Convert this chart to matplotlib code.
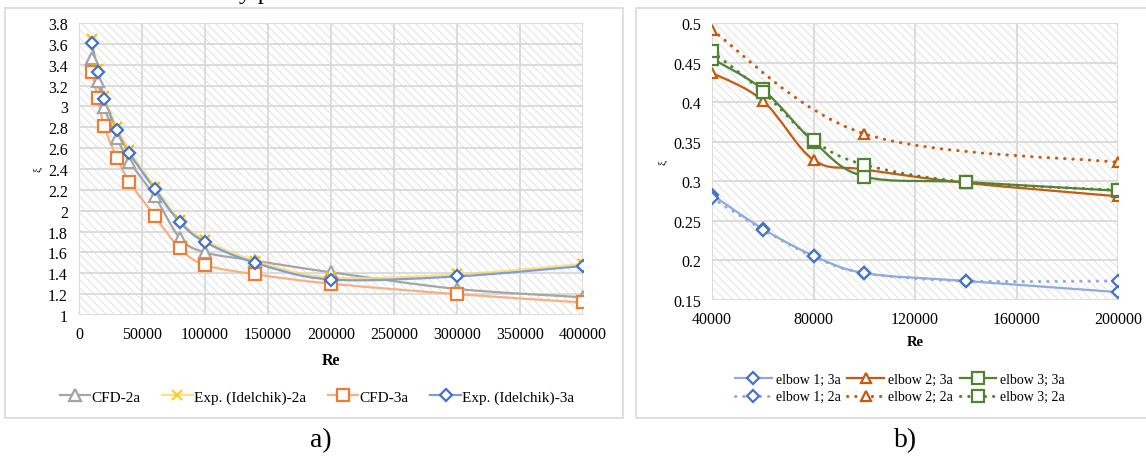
import matplotlib
matplotlib.use("Agg")
import matplotlib.pyplot as plt
import numpy as np
from matplotlib.path import Path
from matplotlib.patches import PathPatch, Rectangle
from matplotlib.lines import Line2D

plt.rcParams['font.family'] = ['Liberation Serif', 'DejaVu Serif']
plt.rcParams['hatch.linewidth'] = 0.7

# ---- data: panel a ----
re_a = [10000, 15000, 20000, 30000, 40000, 60000, 80000, 100000, 140000, 200000, 300000, 400000]
cfd_2a = [3.46, 3.24, 2.99, 2.70, 2.47, 2.14, 1.74, 1.60, 1.52, 1.41, 1.25, 1.17]
exp_2a = [3.65, 3.36, 3.10, 2.80, 2.58, 2.23, 1.91, 1.72, 1.52, 1.36, 1.39, 1.49]
cfd_3a = [3.33, 3.08, 2.81, 2.51, 2.28, 1.95, 1.64, 1.48, 1.39, 1.30, 1.20, 1.12]
exp_3a = [3.61, 3.33, 3.07, 2.77, 2.55, 2.21, 1.89, 1.70, 1.50, 1.34, 1.37, 1.47]

# ---- data: panel b ----
re_b = [40000, 60000, 80000, 100000, 140000, 200000]
re_b_e2_2a = [40000, 100000, 200000]
e1_3a = [0.283, 0.240, 0.206, 0.184, 0.174, 0.160]
e1_2a = [0.279, 0.239, 0.205, 0.184, 0.174, 0.174]
e2_3a = [0.437, 0.402, 0.327, 0.315, 0.298, 0.281]
e2_2a = [0.491, 0.360, 0.324]
e3_3a = [0.455, 0.416, 0.350, 0.306, 0.299, 0.288]
e3_2a = [0.464, 0.413, 0.352, 0.321, 0.299, 0.289]

W, H = 1146, 460
fig = plt.figure(figsize=(W / 100, H / 100), dpi=100)


def smooth_path(x, y):
    # Excel-like smoothed line as cubic Bezier through the data points
    pts = np.column_stack([x, y]).astype(float)
    n = len(pts)
    verts = [pts[0]]
    codes = [Path.MOVETO]
    for i in range(n - 1):
        p0 = pts[i - 1] if i > 0 else pts[i]
        p1, p2 = pts[i], pts[i + 1]
        p3 = pts[i + 2] if i + 2 < n else pts[i + 1]
        verts += [p1 + (p2 - p0) / 6, p2 - (p3 - p1) / 6, p2]
        codes += [Path.CURVE4] * 3
    return Path(verts, codes)


def series(ax, x, y, color, marker, mcolor, ls='-', lw=1.6, ms=7, alpha=1.0):
    dots = ls != '-'
    patch = PathPatch(smooth_path(x, y), facecolor='none', edgecolor=color,
                      lw=lw, alpha=alpha, zorder=2,
                      linestyle=(0, (0.1, 2.6)) if dots else '-',
                      capstyle='round' if dots else 'butt')
    ax.add_patch(patch)
    mfc = mcolor if marker == 'x' else 'white'
    ax.plot(x, y, ls='none', marker=marker, ms=ms, mec=mcolor, mfc=mfc,
            mew=1.6, zorder=3)
    return Line2D([], [], color=color, lw=lw, alpha=1.0 if alpha == 1 else 0.8,
                  linestyle=(0, (0.1, 2.6)) if dots else '-',
                  dash_capstyle='round', marker=marker, ms=ms, mec=mcolor,
                  mfc=mfc, mew=1.6)


def style_axes(ax):
    bg = Rectangle((0, 0), 1, 1, transform=ax.transAxes, facecolor='white',
                   edgecolor='#e2e2e2', lw=0, hatch='\\\\\\\\', zorder=0.1)
    ax.add_patch(bg)
    ax.set_axisbelow(True)
    ax.grid(True, color='#d9d9d9', lw=1.3)
    for s in ax.spines.values():
        s.set_visible(False)
    ax.tick_params(length=0, labelsize=11.5, pad=8)


# frames around the two panels
fig.add_artist(Rectangle((5 / W, (H - 419) / H), 618 / W, 410 / H,
                         transform=fig.transFigure, facecolor='none',
                         edgecolor='#d9d9d9', lw=1.2))
fig.add_artist(Rectangle((636 / W, (H - 419) / H), 530 / W, 410 / H,
                         transform=fig.transFigure, facecolor='none',
                         edgecolor='#d9d9d9', lw=1.2))

# ---- panel a ----
ax1 = fig.add_axes([79 / W, (H - 316) / H, 504 / W, (316 - 24) / H])
style_axes(ax1)
h1 = series(ax1, re_a, cfd_2a, '#a5a5a5', '^', '#a5a5a5', ms=8)
h2 = series(ax1, re_a, exp_2a, '#ffd966', 'x', '#ffc000', alpha=0.8)
h3 = series(ax1, re_a, cfd_3a, '#f4b183', 's', '#ed7d31', ms=8)
h4 = series(ax1, re_a, exp_3a, '#7f9ed4', 'D', '#4472c4', ms=6)
ax1.set_xlim(0, 400000)
ax1.set_ylim(1, 3.8)
ax1.set_xticks(np.arange(0, 400001, 50000))
ax1.set_yticks(np.arange(1, 3.81, 0.2))
ax1.set_yticklabels(['1', '1.2', '1.4', '1.6', '1.8', '2', '2.2', '2.4', '2.6',
                     '2.8', '3', '3.2', '3.4', '3.6', '3.8'])
ax1.set_xlabel('Re', fontsize=11.5, fontweight='bold', labelpad=7)
ax1.set_ylabel('ξ', fontsize=8, labelpad=4)
ax1.legend([h1, h2, h3, h4],
           ['CFD-2a', 'Exp. (Idelchik)-2a', 'CFD-3a', 'Exp. (Idelchik)-3a'],
           loc='center', bbox_to_anchor=(317 / W, (H - 398) / H),
           bbox_transform=fig.transFigure, ncol=4, frameon=False,
           fontsize=11, handlelength=2.0, handletextpad=0.1, columnspacing=1.4)

# ---- panel b ----
ax2 = fig.add_axes([712 / W, (H - 301) / H, 406 / W, (301 - 24) / H])
style_axes(ax2)
g1 = series(ax2, re_b, e1_3a, '#8faadc', 'D', '#4472c4', ms=6)
g2 = series(ax2, re_b, e2_3a, '#c55a11', '^', '#c55a11', ms=7)
g3 = series(ax2, re_b, e3_3a, '#548235', 's', '#548235', ms=8)
g4 = series(ax2, re_b, e1_2a, '#8faadc', 'D', '#4472c4', ls=':', lw=2.2, ms=6)
g5 = series(ax2, re_b_e2_2a, e2_2a, '#c55a11', '^', '#c55a11', ls=':', lw=2.2, ms=7)
g6 = series(ax2, re_b, e3_2a, '#548235', 's', '#548235', ls=':', lw=2.2, ms=8)
ax2.set_xlim(40000, 200000)
ax2.set_ylim(0.15, 0.5)
ax2.set_xticks(np.arange(40000, 200001, 40000))
ax2.set_yticks(np.arange(0.15, 0.501, 0.05))
ax2.set_yticklabels(['0.15', '0.2', '0.25', '0.3', '0.35', '0.4', '0.45', '0.5'])
ax2.set_xlabel('Re', fontsize=10.5, fontweight='bold', labelpad=6)
ax2.set_ylabel('ξ', fontsize=8, labelpad=4)
ax2.legend([g1, g4, g2, g5, g3, g6],
           ['elbow 1; 3a', 'elbow 1; 2a', 'elbow 2; 3a', 'elbow 2; 2a',
            'elbow 3; 3a', 'elbow 3; 2a'],
           loc='center', bbox_to_anchor=(900 / W, (H - 389) / H),
           bbox_transform=fig.transFigure, ncol=3, frameon=False,
           fontsize=10, handlelength=2.6, handletextpad=0.3, columnspacing=0.5,
           labelspacing=0.35)

# captions
fig.text(321 / W, (H - 441) / H, 'a)', fontsize=20, ha='center', va='center')
fig.text(906 / W, (H - 441) / H, 'b)', fontsize=20, ha='center', va='center')
# clipped line of the surrounding text at the very top
fig.text(255 / W, 1 + 1 / H, 'y p', fontsize=18, ha='center', va='baseline')

fig.savefig('out.png', dpi=100)
